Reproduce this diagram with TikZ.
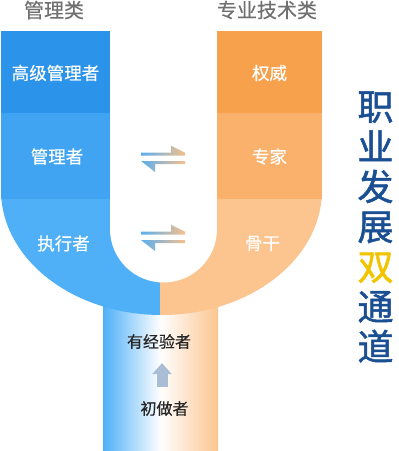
\documentclass[tikz,border=0pt]{standalone}
\usepackage{fontspec}
\setmainfont{Noto Sans CJK SC}[FakeBold=0.4]
\newfontfamily\sloganfont{Noto Sans CJK SC}[FakeBold=1.4]
\usetikzlibrary{arrows.meta}
\definecolor{blueA}{HTML}{2B93E9}
\definecolor{blueB}{HTML}{40A4F2}
\definecolor{blueC}{HTML}{4FB0F8}
\definecolor{orangeA}{HTML}{F7A14C}
\definecolor{orangeB}{HTML}{F9B16C}
\definecolor{orangeC}{HTML}{FCC58F}
\definecolor{titlegray}{HTML}{707070}
\definecolor{navy}{HTML}{1B4F93}
\definecolor{gold}{HTML}{F2C400}
\definecolor{steel}{HTML}{A9BDD5}
\definecolor{swapL}{HTML}{5AAEF0}
\definecolor{swapR}{HTML}{F5C08D}

\begin{document}
\begin{tikzpicture}[x=1pt,y=-1pt,
  lab/.style={text=white,inner sep=0pt,font=\fontsize{17.5}{18}\selectfont},
  head/.style={text=titlegray,inner sep=0pt,font=\fontsize{20}{20}\selectfont},
  stemlab/.style={text=black!85,inner sep=0pt,font=\fontsize{16}{16}\selectfont},
  up/.style={steel,line width=11pt,-{Triangle[length=11pt,width=19pt]}},
  swap/.style={left color=swapL,right color=swapR}]
\useasboundingbox (0,0) rectangle (399,451);
% stem
\shade[left color=blueC,right color=orangeC,middle color=white] (103,290) rectangle (218,450);
% two columns
\fill[blueA] (1,31) rectangle (110,113);
\fill[blueB] (1,113) rectangle (110,199);
\fill[orangeA] (217,31) rectangle (322,113);
\fill[orangeB] (217,113) rectangle (322,199);
\begin{scope}
\clip (161.5,190) ellipse [x radius=160.5,y radius=125];
\fill[blueC] (1,199) rectangle (160,320);
\fill[orangeC] (160,199) rectangle (322,320);
\end{scope}
\fill[white] (110,195) rectangle (217,229);
\fill[white] (163.5,229) circle [radius=53.5];
% swap arrows
\foreach \dy in {0,79} {
  \shade[swap,yshift=-\dy pt] (141,152.7) -- (171,152.7) -- (171,145.7) -- (185,152.7)
    -- (185,155.7) -- (141,155.7) -- cycle;
  \shade[swap,yshift=-\dy pt] (141,161) -- (185,161) -- (185,164) -- (155,164)
    -- (155,172) -- cycle;
}
% labels
\node[head] (mgr) at (54,10) {管理类};
\node[head] (tech) at (267,10) {专业技术类};
\node[lab] (senior) at (55.5,73) {高级管理者};
\node[lab] (manager) at (57,156.5) {管理者};
\node[lab] (exec) at (63.5,243.5) {执行者};
\node[lab] (authority) at (269.5,73) {权威};
\node[lab] (expert) at (269.5,156.5) {专家};
\node[lab] (core) at (262.5,243.5) {骨干};
\node[stemlab] (veteran) at (159,341.5) {有经验者};
\node[stemlab] (novice) at (164.5,408.5) {初做者};
\draw[up,shorten <=14pt,shorten >=14pt] (novice.north-|162,0) -- (veteran.south-|162,0);
\node[text=navy,font=\sloganfont\fontsize{36}{40}\selectfont,align=center,inner sep=0pt]
  (slogan) at (375.5,227) {职\\业\\发\\展\\\textcolor{gold}{双}\\通\\道};
\end{tikzpicture}
\end{document}
